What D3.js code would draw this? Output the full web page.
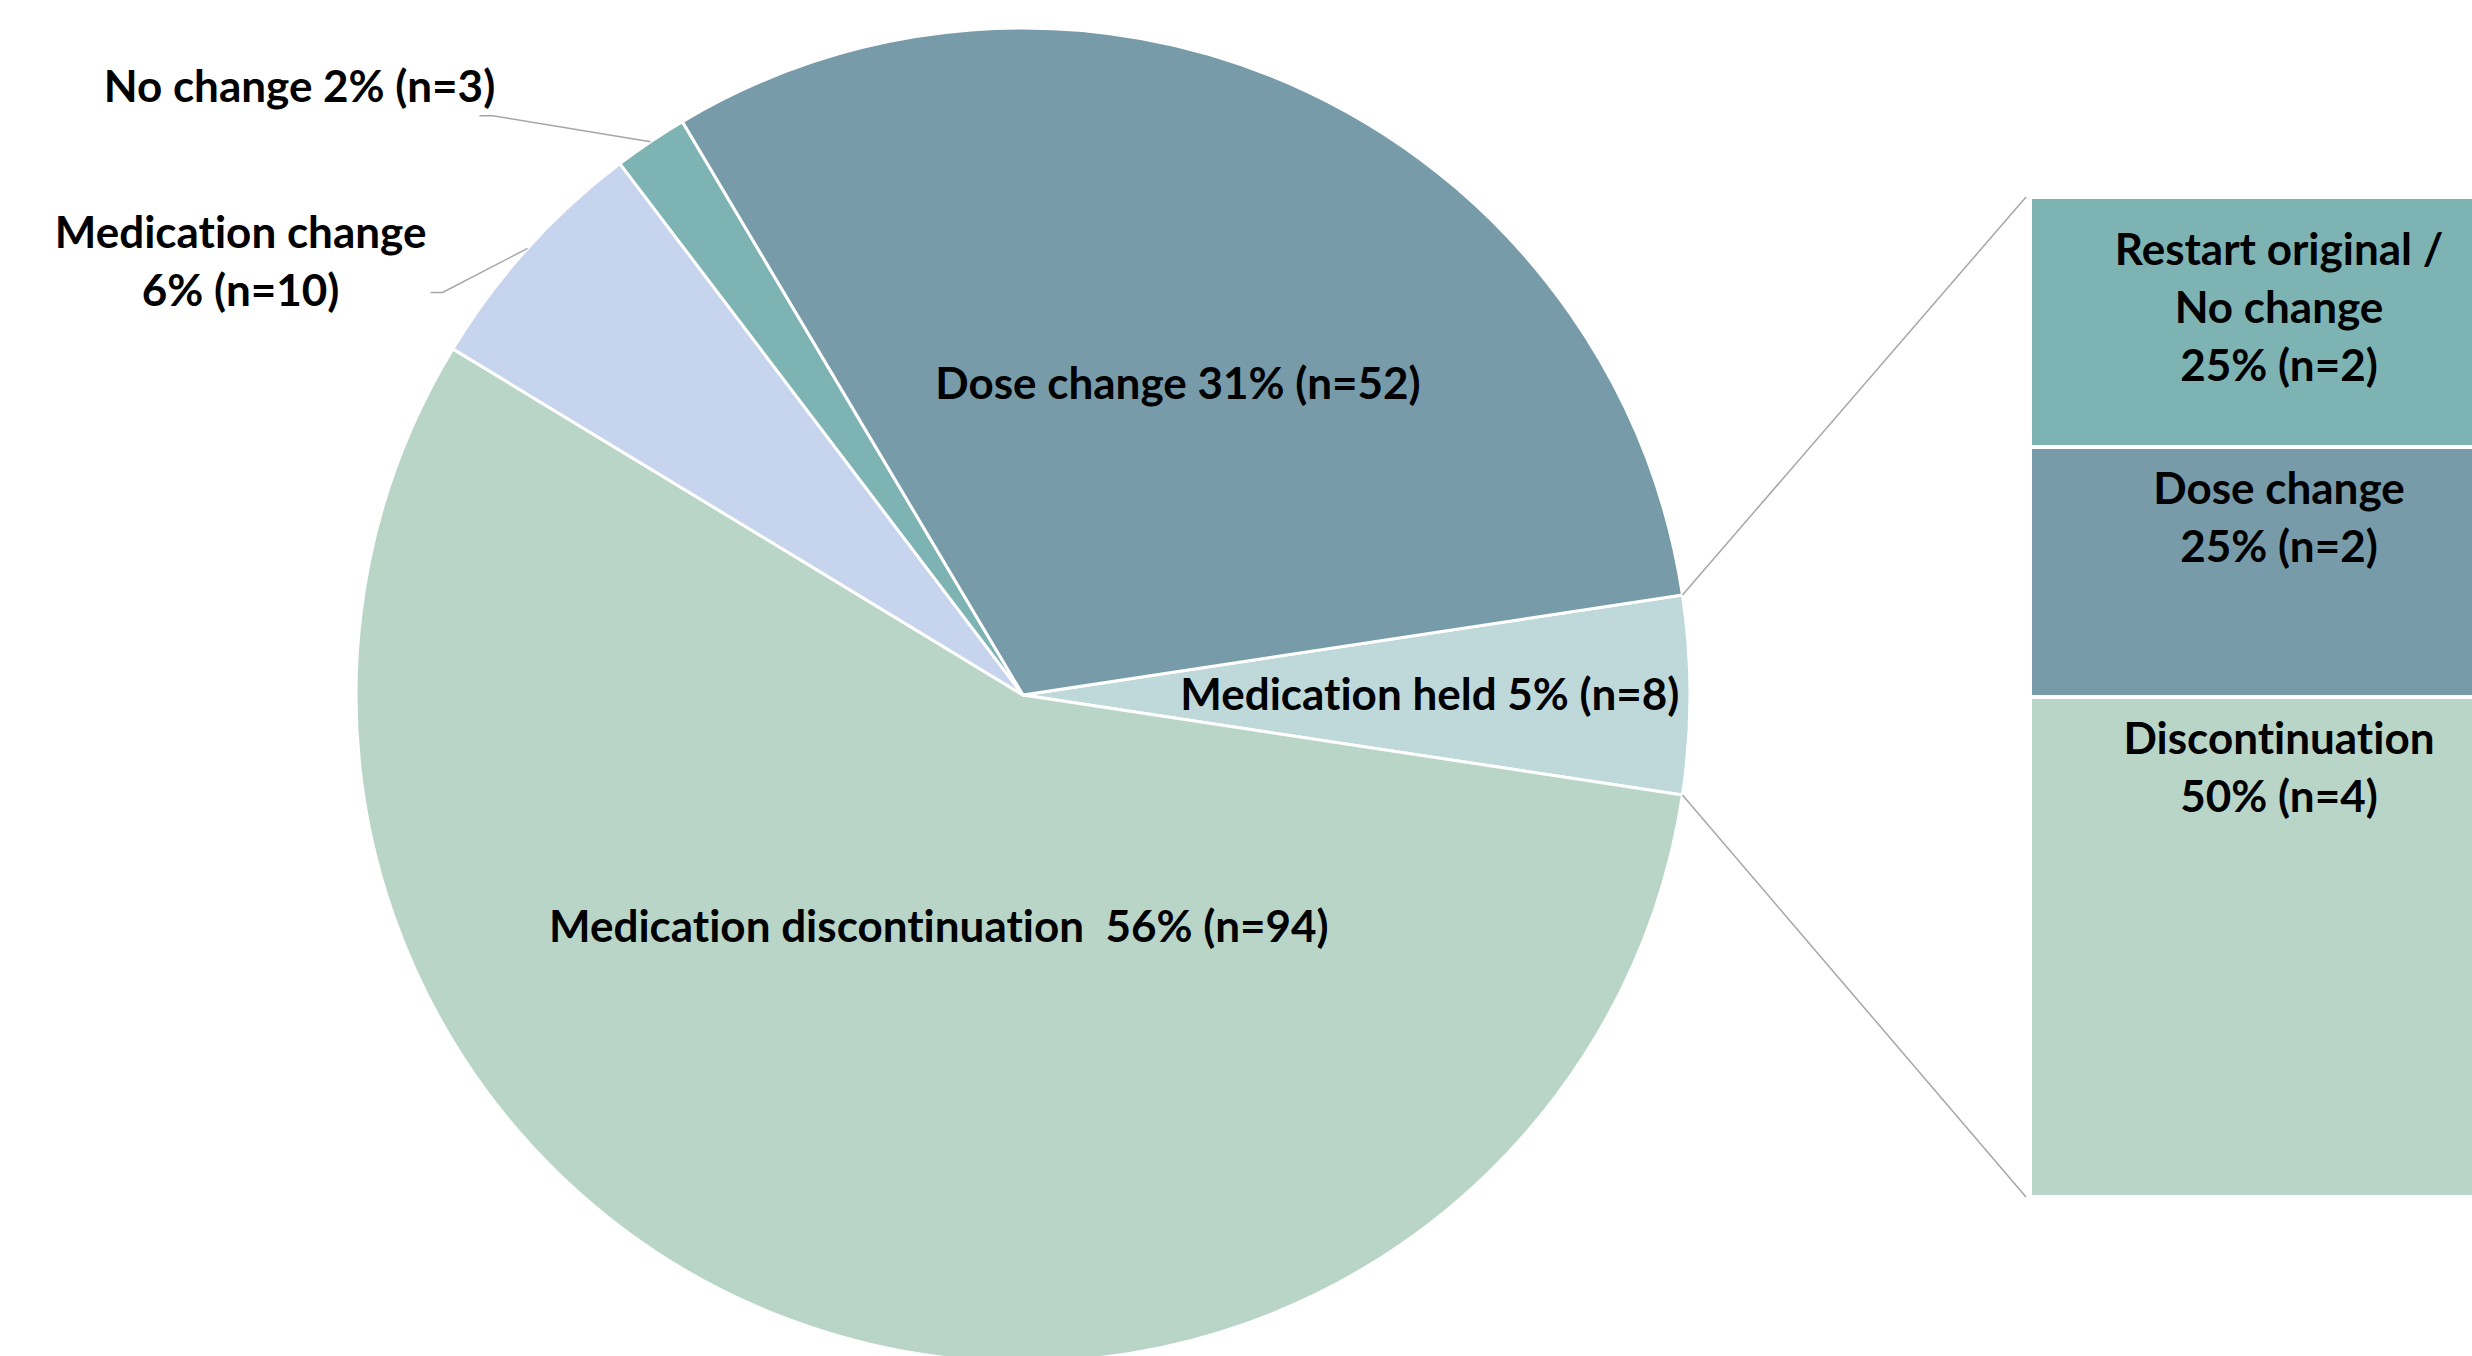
<!DOCTYPE html>
<html lang="en">
<head>
<meta charset="UTF-8">
<title>Medication actions – pie of pie</title>
<script src="https://d3js.org/d3.v7.min.js"></script>
<style>
  html, body { margin: 0; padding: 0; background: #fff; overflow: hidden; }
  text { font-family: "Lato", "Open Sans", sans-serif; font-weight: 700; fill: #000;
         font-variant-ligatures: none; font-feature-settings: "liga" 0, "clig" 0; }
</style>
</head>
<body>
<div id="chart"></div>
<script>
    // main pie (slice order goes clockwise from the split-out slice)
    const categories = ["Medication held", "Medication discontinuation", "Medication change", "No change", "Dose change"];
    const counts = [8, 94, 10, 3, 52];
    const percents = ["5%", "56%", "6%", "2%", "31%"];
    const labelLines = [
        ["Medication held 5% (n=8)"],
        ["Medication discontinuation\u00a0 56% (n=94)"],
        ["Medication change", "6% (n=10)"],
        ["No change 2% (n=3)"],
        ["Dose change 31% (n=52)"]
    ];

    // breakdown of "Medication held"
    const subCategories = ["Restart original / No change", "Dose change", "Discontinuation"];
    const subCounts = [2, 2, 4];
    const subPercents = ["25%", "25%", "50%"];
    const subLabelLines = [
        ["Restart original /", "No change", "25% (n=2)"],
        ["Dose change", "25% (n=2)"],
        ["Discontinuation", "50% (n=4)"]
    ];

    const colors = ["#bfd9db", "#b8d5c8", "#c6d4ee", "#7eb3b3", "#789baa"];
    const subColors = ["#7eb3b3", "#789baa", "#b8d5c8"];

    const W = 2472, H = 1356;
    const cx = 1023, cy = 695, R = 667;
    const fontSize = 44, lineH = 58;

    const svg = d3.select("#chart").append("svg")
        .attr("width", W)
        .attr("height", H);

    // held slice centred on 3 o'clock
    const total = d3.sum(counts);
    const heldAngle = counts[0] / total * 2 * Math.PI;
    const start = Math.PI / 2 - heldAngle / 2;

    const pie = d3.pie().sort(null).startAngle(start).endAngle(start + 2 * Math.PI);
    const arcs = pie(counts);
    const arc = d3.arc().innerRadius(0).outerRadius(R);

    const g = svg.append("g").attr("transform", `translate(${cx},${cy})`);

    g.selectAll("path.slice")
        .data(arcs)
        .enter()
        .append("path")
        .attr("class", "slice")
        .attr("d", arc)
        .attr("fill", (d, i) => colors[i])
        .attr("stroke", "#fff")
        .attr("stroke-width", 3);

    // second plot: stacked bar
    const barX = 2030, barW = 498, barTop = 197, barH = 1000;
    const y = d3.scaleLinear().domain([0, d3.sum(subCounts)]).range([barTop, barTop + barH]);
    const cum = d3.cumsum(subCounts);
    const subData = subCounts.map((v, i) => ({ v, i, y0: cum[i] - v, y1: cum[i] }));

    svg.selectAll("rect.sub")
        .data(subData)
        .enter()
        .append("rect")
        .attr("class", "sub")
        .attr("x", barX)
        .attr("y", d => y(d.y0))
        .attr("width", barW)
        .attr("height", d => y(d.y1) - y(d.y0))
        .attr("fill", d => subColors[d.i])
        .attr("stroke", "#fff")
        .attr("stroke-width", 4);

    const subText = svg.selectAll("text.sub")
        .data(subData)
        .enter()
        .append("text")
        .attr("class", "sub")
        .attr("text-anchor", "middle")
        .attr("font-size", fontSize)
        .attr("x", barX + barW / 2)
        .attr("y", d => y(d.y0) + (d.i === 0 ? 68 : 57));
    subText.selectAll("tspan")
        .data(d => subLabelLines[d.i])
        .enter()
        .append("tspan")
        .attr("x", barX + barW / 2)
        .attr("dy", (d, j) => j === 0 ? 0 : lineH)
        .text(d => d);

    // connector lines from held slice edges to the bar corners
    const held = arcs[0];
    const edge = a => [cx + R * Math.sin(a), cy - R * Math.cos(a)];
    const connectors = [
        [edge(held.startAngle), [barX - 4, y(0)]],
        [edge(held.endAngle), [barX - 4, y(d3.sum(subCounts))]]
    ];
    svg.selectAll("line.conn")
        .data(connectors)
        .enter()
        .append("line")
        .attr("x1", d => d[0][0]).attr("y1", d => d[0][1])
        .attr("x2", d => d[1][0]).attr("y2", d => d[1][1])
        .attr("stroke", "#a6a6a6")
        .attr("stroke-width", 1.5);

    // label placement: inside labels sit along the mid angle at a fraction of R,
    // outside labels hang off a leader line (elbow offset from the rim);
    // tdx/tdy give the first baseline relative to the elbow
    const labelPos = [
        { r: 0.61 },
        { r: 0.37 },
        { out: true, elbow: [-85, 44], hook: -12, tdx: -202, tdy: -44 },
        { out: true, elbow: [-158, -26], hook: -13, tdx: -193, tdy: -14 },
        { r: 0.515, dx: 8 }
    ];

    const mid = d => (d.startAngle + d.endAngle) / 2;

    arcs.forEach((d, i) => {
        const p = labelPos[i];
        const a = mid(d);
        const lines = labelLines[i];
        let tx, ty;
        if (p.out) {
            const e = edge(a);
            const el = [e[0] + p.elbow[0], e[1] + p.elbow[1]];
            svg.append("polyline")
                .attr("points", [e, el, [el[0] + p.hook, el[1]]].map(q => q.join(",")).join(" "))
                .attr("fill", "none")
                .attr("stroke", "#a6a6a6")
                .attr("stroke-width", 1.5);
            tx = el[0] + p.tdx;
            ty = el[1] + p.tdy;
        } else {
            const q = edge(a);
            tx = cx + (q[0] - cx) * p.r + (p.dx || 0);
            ty = cy + (q[1] - cy) * p.r - (lines.length - 1) * lineH / 2 + fontSize * 0.33;
        }
        const t = svg.append("text")
            .attr("text-anchor", "middle")
            .attr("font-size", fontSize)
            .attr("x", tx)
            .attr("y", ty);
        t.selectAll("tspan")
            .data(lines)
            .enter()
            .append("tspan")
            .attr("x", tx)
            .attr("dy", (s, j) => j === 0 ? 0 : lineH)
            .text(s => s);
    });
</script>
</body>
</html>
